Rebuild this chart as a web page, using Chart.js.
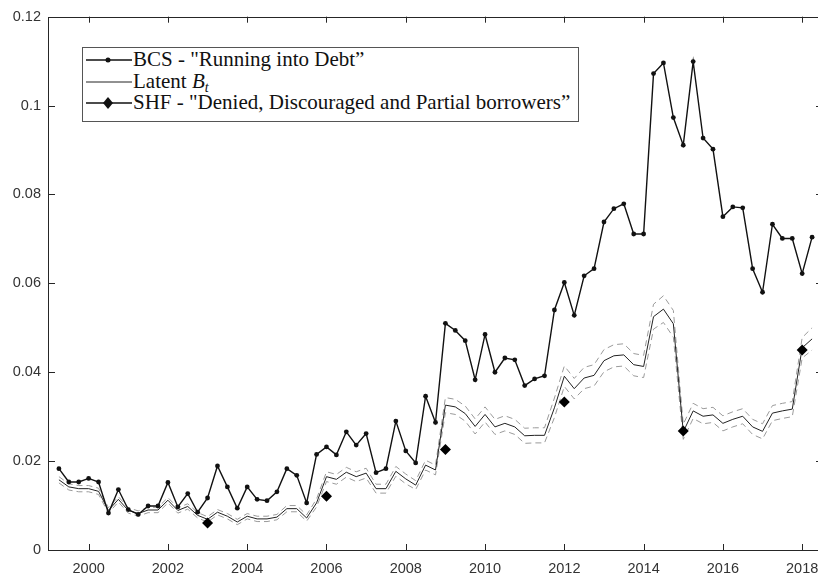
<!DOCTYPE html>
<html>
<head>
<meta charset="utf-8">
<script src="https://cdn.jsdelivr.net/npm/chart.js@4.4.1/dist/chart.umd.min.js"></script>
<style>
    html, body { margin: 0; padding: 0; background: #fff; overflow: hidden; }
    #wrap { position: relative; width: 830px; height: 579px; }
    #legend {
        position: absolute; left: 82px; top: 47px; width: 495px; height: 73px;
        border: 1px solid #555; background: #fff;
        font-family: 'Liberation Serif', 'Times New Roman', serif; font-size: 21px; color: #111;
    }
    .row { position: absolute; left: 0; height: 22px; line-height: 22px; white-space: nowrap; }
    .row svg { position: absolute; left: 3px; top: 0; }
    .row span { position: absolute; left: 50px; top: -1px; }
    sub { font-size: 14px; vertical-align: -4px; line-height: 0; }
</style>
</head>
<body>
<div id="wrap">
    <canvas id="chart" width="830" height="579"></canvas>
    <div id="legend">
        <div class="row" style="top:1px">
            <svg width="46" height="22"><line x1="0" y1="11" x2="46" y2="11" stroke="#111" stroke-width="1.3"/><circle cx="22" cy="11" r="2.5" fill="#111"/></svg>
            <span>BCS - "Running into Debt”</span>
        </div>
        <div class="row" style="top:23px">
            <svg width="46" height="22"><line x1="0" y1="11" x2="46" y2="11" stroke="#222" stroke-width="1"/></svg>
            <span>Latent <i>B</i><sub><i>t</i></sub></span>
        </div>
        <div class="row" style="top:44px">
            <svg width="46" height="22"><line x1="0" y1="11" x2="46" y2="11" stroke="#111" stroke-width="1.3"/><polygon points="22,5 27,11 22,17 17,11" fill="#111"/></svg>
            <span>SHF - "Denied, Discouraged and Partial borrowers”</span>
        </div>
    </div>
</div>
<script>
// ── Data ──
const fechas = [
    1999.25, 1999.5, 1999.75,
    2000, 2000.25, 2000.5, 2000.75,
    2001, 2001.25, 2001.5, 2001.75,
    2002, 2002.25, 2002.5, 2002.75,
    2003, 2003.25, 2003.5, 2003.75,
    2004, 2004.25, 2004.5, 2004.75,
    2005, 2005.25, 2005.5, 2005.75,
    2006, 2006.25, 2006.5, 2006.75,
    2007, 2007.25, 2007.5, 2007.75,
    2008, 2008.25, 2008.5, 2008.75,
    2009, 2009.25, 2009.5, 2009.75,
    2010, 2010.25, 2010.5, 2010.75,
    2011, 2011.25, 2011.5, 2011.75,
    2012, 2012.25, 2012.5, 2012.75,
    2013, 2013.25, 2013.5, 2013.75,
    2014, 2014.25, 2014.5, 2014.75,
    2015, 2015.25, 2015.5, 2015.75,
    2016, 2016.25, 2016.5, 2016.75,
    2017, 2017.25, 2017.5, 2017.75,
    2018, 2018.25
];

const bcs = [
    0.0183, 0.0153, 0.0153,
    0.0161, 0.0153, 0.0083, 0.0136,
    0.0091, 0.0080, 0.0099, 0.0099,
    0.0152, 0.0097, 0.0127, 0.0085,
    0.0117, 0.0189, 0.0142, 0.0094,
    0.0142, 0.0114, 0.0111, 0.0131,
    0.0183, 0.0168, 0.0106, 0.0215,
    0.0232, 0.0214, 0.0266, 0.0236,
    0.0262, 0.0174, 0.0183, 0.0290,
    0.0223, 0.0196, 0.0346, 0.0287,
    0.0510, 0.0494, 0.0471, 0.0383,
    0.0485, 0.0400, 0.0432, 0.0428,
    0.0370, 0.0385, 0.0392, 0.0540,
    0.0602, 0.0528, 0.0617, 0.0633,
    0.0738, 0.0768, 0.0779, 0.0711,
    0.0711, 0.1072, 0.1096, 0.0973,
    0.0911, 0.1099, 0.0927, 0.0902,
    0.0750, 0.0772, 0.0770, 0.0633,
    0.0580, 0.0733, 0.0701, 0.0701,
    0.0622, 0.0704
];

const latente = [
    0.0158, 0.0142, 0.0138,
    0.0138, 0.0132, 0.0089, 0.0114,
    0.0089, 0.0082, 0.0090, 0.0090,
    0.0112, 0.0089, 0.0098, 0.0078,
    0.0069, 0.0085, 0.0076, 0.0063,
    0.0076, 0.0070, 0.0070, 0.0074,
    0.0093, 0.0093, 0.0072, 0.0106,
    0.0165, 0.0159, 0.0175, 0.0165,
    0.0173, 0.0138, 0.0138, 0.0177,
    0.0160, 0.0146, 0.0191, 0.0180,
    0.0326, 0.0322, 0.0307, 0.0278,
    0.0305, 0.0277, 0.0285, 0.0277,
    0.0257, 0.0258, 0.0258, 0.0320,
    0.0391, 0.0363, 0.0387, 0.0393,
    0.0426, 0.0437, 0.0439, 0.0417,
    0.0413, 0.0525, 0.0542, 0.0509,
    0.0266, 0.0313, 0.0301, 0.0304,
    0.0285, 0.0294, 0.0301, 0.0277,
    0.0267, 0.0308, 0.0313, 0.0317,
    0.0455, 0.0475
];

const bandaSup = [
    0.0165, 0.0149, 0.0145,
    0.0145, 0.0139, 0.0095, 0.0120,
    0.0095, 0.0088, 0.0096, 0.0096,
    0.0118, 0.0095, 0.0104, 0.0084,
    0.0075, 0.0091, 0.0082, 0.0069,
    0.0082, 0.0076, 0.0076, 0.0080,
    0.0100, 0.0100, 0.0079, 0.0115,
    0.0176, 0.0170, 0.0186, 0.0176,
    0.0184, 0.0148, 0.0148, 0.0188,
    0.0171, 0.0156, 0.0202, 0.0191,
    0.0343, 0.0339, 0.0324, 0.0295,
    0.0322, 0.0294, 0.0302, 0.0294,
    0.0274, 0.0275, 0.0275, 0.0342,
    0.0414, 0.0386, 0.0411, 0.0417,
    0.0451, 0.0462, 0.0464, 0.0442,
    0.0438, 0.0553, 0.0572, 0.0539,
    0.0283, 0.0330, 0.0318, 0.0321,
    0.0302, 0.0311, 0.0318, 0.0294,
    0.0284, 0.0325, 0.0330, 0.0334,
    0.0478, 0.0500
];

const bandaInf = [
    0.0151, 0.0135, 0.0131,
    0.0131, 0.0125, 0.0083, 0.0108,
    0.0083, 0.0076, 0.0084, 0.0084,
    0.0106, 0.0083, 0.0092, 0.0072,
    0.0063, 0.0079, 0.0070, 0.0057,
    0.0070, 0.0064, 0.0064, 0.0068,
    0.0086, 0.0086, 0.0065, 0.0097,
    0.0154, 0.0148, 0.0164, 0.0154,
    0.0162, 0.0128, 0.0128, 0.0166,
    0.0149, 0.0136, 0.0180, 0.0169,
    0.0309, 0.0305, 0.0290, 0.0261,
    0.0288, 0.0260, 0.0268, 0.0260,
    0.0240, 0.0241, 0.0241, 0.0298,
    0.0368, 0.0340, 0.0363, 0.0369,
    0.0401, 0.0412, 0.0414, 0.0392,
    0.0388, 0.0497, 0.0512, 0.0479,
    0.0249, 0.0296, 0.0284, 0.0287,
    0.0268, 0.0277, 0.0284, 0.0260,
    0.0250, 0.0291, 0.0296, 0.0300,
    0.0432, 0.0450
];

const shfFechas  = [2003, 2006, 2009, 2012, 2015, 2018];
const shfValores = [0.0061, 0.0121, 0.0226, 0.0333, 0.0268, 0.0450];

const xTicks = [2000, 2002, 2004, 2006, 2008, 2010, 2012, 2014, 2016, 2018];
const yTicks = [0, 0.02, 0.04, 0.06, 0.08, 0.1, 0.12];
const yTickLabels = ['0', '0.02', '0.04', '0.06', '0.08', '0.1', '0.12'];

const pares = (xs, ys) => xs.map((x, i) => ({ x: x, y: ys[i] }));

// ── Caja del eje + marcas hacia dentro (estilo Matlab) ──
const cajaEjes = {
    id: 'cajaEjes',
    afterDraw(chart) {
        const { ctx, chartArea: a, scales } = chart;
        const L = 6;
        ctx.save();
        ctx.strokeStyle = '#262626';
        ctx.lineWidth = 1;
        ctx.strokeRect(Math.round(a.left) - 0.5, Math.round(a.top) + 0.5, Math.round(a.right - a.left), Math.round(a.bottom - a.top));
        ctx.beginPath();
        xTicks.forEach(v => {
            const px = Math.round(scales.x.getPixelForValue(v)) + 0.5;
            ctx.moveTo(px, a.bottom); ctx.lineTo(px, a.bottom - L);
            ctx.moveTo(px, a.top);    ctx.lineTo(px, a.top + L);
        });
        yTicks.forEach(v => {
            const py = Math.round(scales.y.getPixelForValue(v)) + 0.5;
            ctx.moveTo(a.left, py);  ctx.lineTo(a.left + L, py);
            ctx.moveTo(a.right, py); ctx.lineTo(a.right - L, py);
        });
        ctx.stroke();
        ctx.restore();
    }
};

const fuenteEje = { family: "'Liberation Sans', Arial, sans-serif", size: 14.5 };

new Chart(document.getElementById('chart').getContext('2d'), {
    type: 'line',
    data: {
        datasets: [
            {
                label: 'SHF',
                data: pares(shfFechas, shfValores),
                showLine: false,
                pointStyle: 'rectRot',
                pointRadius: 5.5,
                pointBackgroundColor: '#000',
                pointBorderColor: '#000',
                pointBorderWidth: 0
            },
            {
                label: 'BCS',
                data: pares(fechas, bcs),
                borderColor: '#111',
                borderWidth: 1.4,
                pointRadius: 2.4,
                pointBackgroundColor: '#111',
                pointBorderWidth: 0,
                tension: 0
            },
            {
                label: 'Latent',
                data: pares(fechas, latente),
                borderColor: '#222',
                borderWidth: 1,
                pointRadius: 0,
                tension: 0
            },
            {
                label: 'Upper',
                data: pares(fechas, bandaSup),
                borderColor: '#9a9a9a',
                borderWidth: 1,
                borderDash: [6, 4],
                pointRadius: 0,
                tension: 0
            },
            {
                label: 'Lower',
                data: pares(fechas, bandaInf),
                borderColor: '#9a9a9a',
                borderWidth: 1,
                borderDash: [6, 4],
                pointRadius: 0,
                tension: 0
            }
        ]
    },
    options: {
        responsive: false,
        animation: false,
        devicePixelRatio: 1,
        layout: { padding: { top: 15, right: 8, left: 0, bottom: 0 } },
        plugins: { legend: { display: false }, tooltip: { enabled: false } },
        scales: {
            x: {
                type: 'linear',
                min: 1999,
                max: 2018.5,
                grid: { display: false, drawTicks: false },
                border: { display: false },
                afterBuildTicks: s => { s.ticks = xTicks.map(v => ({ value: v })); },
                afterFit: s => { s.height = 29; },
                ticks: { color: '#333', font: fuenteEje, padding: 10, maxRotation: 0, callback: v => String(v) }
            },
            y: {
                min: 0,
                max: 0.12,
                grid: { display: false, drawTicks: false },
                border: { display: false },
                afterBuildTicks: s => { s.ticks = yTicks.map(v => ({ value: v })); },
                afterFit: s => { s.width = 49; },
                ticks: { color: '#333', font: fuenteEje, padding: 8, callback: (v, i) => yTickLabels[i] }
            }
        }
    },
    plugins: [cajaEjes]
});
</script>
</body>
</html>
